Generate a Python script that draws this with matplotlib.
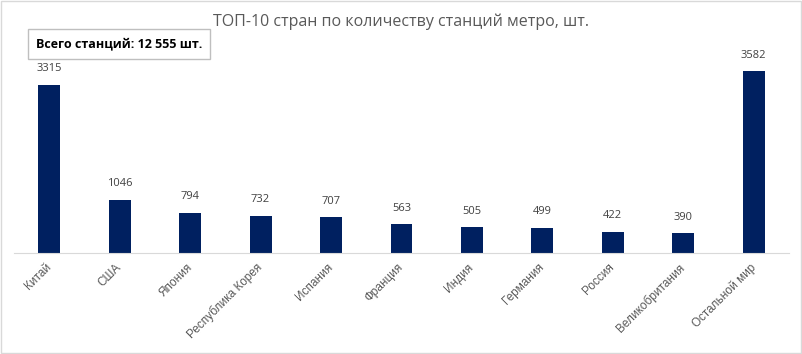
import matplotlib.pyplot as plt
import numpy as np

# ТОП-10 стран по количеству станций метро
countries = ['Китай', 'США', 'Япония', 'Республика Корея', 'Испания', 'Франция',
             'Индия', 'Германия', 'Россия', 'Великобритания', 'Остальной мир']
stations = [3315, 1046, 794, 732, 707, 563, 505, 499, 422, 390, 3582]
total_text = 'Всего станций: 12 555 шт.'

plt.rcParams['font.family'] = ['Open Sans', 'DejaVu Sans']

fig = plt.figure(figsize=(8.03, 3.54), dpi=100)
ax = fig.add_axes([14 / 803, 1 - 253 / 354, 775 / 803, 203 / 354])

x = np.arange(len(countries))
ax.bar(x, stations, width=0.31, color='#002060')
ax.set_xlim(-0.5, len(countries) - 0.5)
ax.set_ylim(0, 4000)

for xi, v in zip(x, stations):
    ax.annotate(str(v), (xi, v), xytext=(0, 7.5), textcoords='offset points',
                ha='center', va='bottom', fontsize=8, color='#404040')

ax.set_xticks(x)
ax.set_xticklabels(countries, rotation=45, ha='right', va='center',
                   rotation_mode='anchor', fontsize=8.5, color='#595959',
                   family=['Liberation Sans', 'DejaVu Sans'])
ax.tick_params(axis='x', length=0, pad=9)
ax.set_yticks([])
for s in ['top', 'right', 'left']:
    ax.spines[s].set_visible(False)
ax.spines['bottom'].set_color('#d9d9d9')

fig.text(0.5, 1 - 22 / 354, 'ТОП-10 стран по количеству станций метро, шт.',
         ha='center', va='center', fontsize=11.5, color='#595959')
fig.text(119 / 803, 1 - 44 / 354, total_text, ha='center', va='center',
         fontsize=9, fontweight='bold', color='black',
         bbox=dict(boxstyle='square,pad=0.65', fc='white', ec='#bfbfbf', lw=1))

# рамка вокруг рисунка
fig.patches.append(plt.Rectangle((0.001, 0.002), 0.997, 0.995, transform=fig.transFigure,
                                 fill=False, ec='#d9d9d9', lw=1))

fig.savefig('out.png', dpi=100)
